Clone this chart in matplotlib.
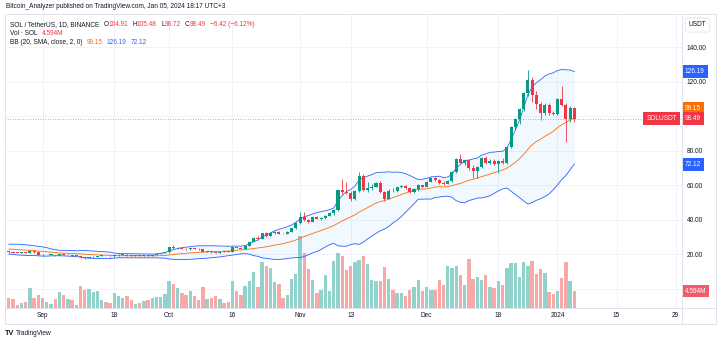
import numpy as np
import pandas as pd
import matplotlib
matplotlib.use("Agg")
import matplotlib.pyplot as plt
import matplotlib.dates as mdates
import matplotlib.transforms as mtransforms
from matplotlib.lines import Line2D

plt.rcParams['font.family'] = ['Liberation Sans', 'DejaVu Sans']

# SOL / TetherUS daily candles (Binance), 2023-08-24 .. 2024-01-05
start_date = "2023-08-24"

opens = [
    21.8, 21.2, 20.9, 20.8, 21.0, 20.8, 22.0, 21.1,
    19.9, 19.5, 19.7, 19.8, 19.4, 20.0, 19.6, 19.8, 19.3, 19.2, 18.3, 17.7, 18.2, 18.7, 19.1,
    19.2, 19.0, 18.8, 19.4, 19.8, 19.9, 19.3, 19.2, 19.4, 19.1, 19.4, 19.2, 19.6, 20.3, 20.8,
    21.1, 24.0, 23.5, 23.9, 23.2, 22.9, 23.5, 23.2, 22.9, 21.6, 21.8, 21.4, 21.0, 21.6, 21.5,
    21.4, 24.2, 23.8, 23.3, 25.0, 27.2, 29.5, 29.0, 32.1, 30.9, 32.5, 33.0, 32.0, 31.7, 33.2, 35.0,
    38.3, 41.7, 40.0, 38.8, 41.5, 40.6, 41.0, 42.5, 44.0, 45.6, 57.3, 56.2, 55.8, 52.0, 56.8,
    65.4, 57.5, 58.6, 59.2, 61.5, 56.3, 52.2, 56.9, 56.5, 58.8, 59.5, 58.4, 56.4, 57.6, 60.0,
    59.3, 62.0, 64.1, 63.2, 61.6, 61.0, 62.3, 67.9, 75.1, 73.2, 74.4, 70.3, 68.5, 70.6, 75.7,
    73.2, 74.2, 72.6, 74.3, 72.8, 82.1, 94.0, 98.4, 104.5, 113.5, 121.2, 112.6, 106.9, 101.8,
    106.7, 101.8,
    101.3, 110.0, 106.7, 98.4, 104.91,
]
highs = [
    22.0, 21.4, 21.0, 21.1, 21.2, 22.5, 22.2, 21.6,
    20.1, 19.8, 19.9, 19.9, 20.3, 20.2, 20.0, 19.9, 19.4, 19.3, 18.5, 18.6, 18.9, 19.3, 19.4,
    19.3, 19.1, 19.9, 20.0, 20.1, 20.0, 19.6, 19.5, 19.5, 19.5, 19.5, 19.9, 20.5, 21.0, 21.3,
    24.2, 25.2, 24.1, 24.0, 23.6, 23.8, 23.7, 23.4, 23.0, 22.0, 21.9, 21.6, 21.8, 21.8, 21.9,
    25.0, 24.5, 24.0, 25.3, 27.5, 29.8, 30.4, 32.5, 33.2, 32.9, 33.8, 33.4, 32.4, 33.5, 35.4, 38.6,
    44.8, 44.6, 40.6, 41.9, 42.0, 41.6, 42.9, 44.3, 46.2, 58.0, 63.5, 61.8, 57.0, 57.4, 68.0,
    66.5, 62.0, 60.5, 62.2, 62.5, 57.0, 57.6, 58.6, 59.3, 60.0, 60.0, 58.9, 58.2, 60.5, 60.4,
    62.5, 64.6, 64.6, 63.9, 62.6, 62.8, 68.5, 75.6, 78.0, 75.0, 74.9, 71.6, 71.0, 76.4, 77.2,
    75.0, 75.0, 74.9, 76.0, 82.6, 94.5, 98.9, 104.9, 114.0, 126.6, 122.5, 114.5, 108.5, 108.0,
    107.5, 103.0,
    110.8, 117.3, 108.0, 106.0, 105.48,
]
lows = [
    21.0, 20.6, 20.7, 20.7, 20.5, 20.6, 21.0, 19.7,
    19.2, 19.4, 19.5, 19.2, 19.2, 19.4, 19.4, 19.2, 19.1, 18.1, 17.3, 17.6, 18.0, 18.5, 18.9,
    18.9, 18.6, 18.7, 19.2, 19.5, 19.1, 19.1, 19.1, 19.0, 19.0, 19.1, 19.1, 19.4, 20.1, 20.6,
    21.0, 23.3, 23.2, 22.9, 22.6, 22.8, 23.0, 22.7, 21.3, 21.3, 21.0, 20.8, 20.9, 21.4, 21.3,
    21.3, 23.5, 22.9, 23.0, 24.8, 26.9, 28.6, 28.8, 30.2, 30.5, 31.8, 31.6, 31.5, 31.5, 32.8, 34.6,
    37.6, 39.5, 38.0, 38.6, 40.2, 40.0, 40.4, 42.0, 42.9, 45.2, 55.2, 55.0, 50.8, 51.5, 56.3,
    56.8, 56.0, 57.4, 58.8, 55.8, 51.0, 51.8, 56.2, 56.2, 58.3, 57.8, 55.6, 55.8, 57.0, 58.7,
    59.0, 61.7, 62.6, 60.8, 60.2, 60.6, 61.8, 67.3, 72.8, 72.0, 69.0, 64.2, 64.0, 70.1, 72.4,
    72.6, 72.0, 67.2, 72.4, 72.2, 81.5, 92.0, 95.5, 103.0, 112.0, 108.5, 104.5, 98.0, 100.5,
    100.8, 100.5,
    100.6, 105.8, 85.3, 96.5, 96.72,
]
closes = [
    21.2, 20.9, 20.8, 21.0, 20.8, 22.0, 21.1, 19.9,
    19.5, 19.7, 19.8, 19.4, 20.0, 19.6, 19.8, 19.3, 19.2, 18.3, 17.7, 18.2, 18.7, 19.1, 19.2,
    19.0, 18.8, 19.4, 19.8, 19.9, 19.3, 19.2, 19.4, 19.1, 19.4, 19.2, 19.6, 20.3, 20.8, 21.1,
    24.0, 23.5, 23.9, 23.2, 22.9, 23.5, 23.2, 22.9, 21.6, 21.8, 21.4, 21.0, 21.6, 21.5, 21.4,
    24.2, 23.8, 23.3, 25.0, 27.2, 29.5, 29.0, 32.1, 30.9, 32.5, 33.0, 32.0, 31.7, 33.2, 35.0, 38.3,
    41.7, 40.0, 38.8, 41.5, 40.6, 41.0, 42.5, 44.0, 45.6, 57.3, 56.2, 55.8, 52.0, 56.8, 65.4,
    57.5, 58.6, 59.2, 61.5, 56.3, 52.2, 56.9, 56.5, 58.8, 59.5, 58.4, 56.4, 57.6, 60.0, 59.3,
    62.0, 64.1, 63.2, 61.6, 61.0, 62.3, 67.9, 75.1, 73.2, 74.4, 70.3, 68.5, 70.6, 75.7, 73.2,
    74.2, 72.6, 74.3, 72.8, 82.1, 94.0, 98.4, 104.5, 113.5, 121.2, 112.6, 106.9, 101.8, 106.7,
    101.8, 101.3,
    110.0, 106.7, 98.4, 104.91, 98.49,
]
# volume in millions of SOL
volumes = [
    2.8, 2.4, 0.8, 1.3, 1.6, 5.5, 2.8, 3.5,
    2.8, 1.6, 1.2, 2.4, 4.4, 3.6, 2.4, 2.1, 0.8, 5.9, 4.9, 5.1, 4.4, 4.6, 2.2,
    1.5, 1.3, 4.0, 3.3, 2.8, 3.2, 2.1, 1.2, 1.3, 1.9, 2.2, 2.8, 3.1, 2.9, 3.8,
    7.2, 6.4, 5.5, 4.1, 3.5, 4.6, 3.3, 2.1, 5.7, 2.4, 2.8, 3.3, 2.4, 1.4, 1.7,
    7.3, 4.6, 3.5, 6.0, 7.3, 9.6, 5.8, 12.5, 11.4, 10.9, 6.9, 6.4, 2.8, 3.5, 7.8, 9.3,
    19.6, 14.9, 10.6, 7.7, 4.1, 5.0, 8.8, 4.6, 12.6, 14.9, 14.0, 10.4, 11.3, 12.4, 13.1,
    14.1, 12.0, 7.5, 7.2, 7.2, 11.0, 7.9, 5.0, 4.0, 4.1, 3.2, 4.8, 5.7, 7.7, 4.5,
    5.6, 5.0, 4.8, 7.7, 6.1, 11.3, 10.8, 11.4, 8.8, 6.1, 13.2, 7.9, 8.4, 7.7, 8.8,
    5.6, 5.4, 7.2, 6.1, 10.8, 12.3, 12.3, 8.4, 12.4, 11.4, 12.6, 9.2, 10.5, 9.5, 4.3, 3.9,
    4.6, 8.1, 12.4, 7.2, 4.594,
]
# closes of the 19 days before the first candle, needed for the 20-day bands
warmup_closes = [23.4, 23.3, 23.8, 24.6, 24.5, 24.6, 24.5, 24.6, 24.5, 24.7,
                 23.9, 22.9, 21.6, 21.3, 21.2, 21.7, 21.3, 21.1, 21.8]

bb_legend = ["99.15", "126.19", "72.12"]
tick_dates = ["2023-09-01", "2023-09-18", "2023-10-01", "2023-10-16", "2023-11-01", "2023-11-13",
              "2023-12-01", "2023-12-18", "2024-01-01", "2024-01-15", "2024-01-29"]
tick_labels = ["Sep", "18", "Oct", "16", "Nov", "13", "Dec", "18", "2024", "15", "29"]
price_grid = [0, 20, 40, 60, 80, 100, 120, 140]
hidden_price_labels = [0, 100]

UP, DOWN = "#089981", "#F23645"
VOL_UP, VOL_DOWN = "#92d2cc", "#f7a9a7"
BLUE, ORANGE, TXT, GRID, FRAME = "#2962FF", "#FF6D00", "#131722", "#f0f3fa", "#e0e3eb"
FS = 4.7

W, H = 720, 341
fig = plt.figure(figsize=(W / 100, H / 100), dpi=100)
fig.patch.set_facecolor("white")


def fx(px):
    return px / W


def fy(py):
    return 1 - py / H


# plot area in pixels
L, R, T, B = 5, 682, 14, 308
ax_vol = fig.add_axes([fx(L), fy(B), (R - L) / W, (B - T) / H])
ax = ax_vol.twinx()

dates = pd.date_range(start_date, periods=len(closes), freq="D")
x = mdates.date2num(dates)
o, h, l, c = map(np.array, (opens, highs, lows, closes))
up = c >= o

# Bollinger bands (20, SMA, close, 2)
s = pd.Series(warmup_closes + closes)
basis = s.rolling(20).mean().iloc[len(warmup_closes):].values
dev = s.rolling(20).std(ddof=0).iloc[len(warmup_closes):].values
upper = basis + 2 * dev
lower = basis - 2 * dev

sep1 = mdates.date2num(pd.Timestamp("2023-09-01"))
ax_vol.set_xlim(sep1 - 8.9, sep1 + 151.5)
ax.set_ylim(-11.1, 159.3)
ax_vol.set_ylim(0, 79.5)

# grid (behind the volume bars)
ax_vol.set_axisbelow(True)
ax_vol.set_xticks(mdates.date2num(pd.to_datetime(tick_dates)))
ax_vol.set_xticklabels(tick_labels)
ax_vol.grid(axis="x", color=GRID, lw=0.7)
ax_vol.tick_params(axis="x", length=0, pad=3.0, labelsize=FS, labelcolor=TXT)
ax_vol.set_yticks([])
blend = mtransforms.blended_transform_factory(ax_vol.transAxes, ax.transData)
for v in price_grid:
    ax_vol.add_line(Line2D([0, 1], [v, v], transform=blend, color=GRID, lw=0.7, zorder=0))

ax_vol.bar(x, volumes, width=0.8, color=np.where(up, VOL_UP, VOL_DOWN), linewidth=0, zorder=2)

ax.fill_between(x, lower, upper, color="#2196F3", alpha=0.06, linewidth=0, zorder=1)
ax.plot(x, upper, color=BLUE, lw=0.6, zorder=2)
ax.plot(x, lower, color=BLUE, lw=0.6, zorder=2)
ax.plot(x, basis, color=ORANGE, lw=0.6, zorder=2)

colors = np.where(up, UP, DOWN)
ax.vlines(x, l, h, color=colors, lw=0.6, zorder=4)
ax.bar(x, np.maximum(np.abs(c - o), 0.3), bottom=np.minimum(o, c), width=0.72,
       color=colors, linewidth=0, zorder=5)

ax.axhline(c[-1], color=DOWN, lw=0.6, ls=(0, (1, 2)), alpha=0.7, zorder=3)

ax.set_yticks(price_grid)
ax.set_yticklabels(["" if v in hidden_price_labels else f"{v:.2f}" for v in price_grid])
ax.tick_params(axis="y", length=0, pad=3.3, labelsize=FS, labelcolor=TXT)
for a in (ax, ax_vol):
    for sp in a.spines.values():
        sp.set_visible(False)

# price scale labels
ytr = ax.get_yaxis_transform()
box = dict(boxstyle="square,pad=0.45", ec="none")
ax.text(1.0044, float(bb_legend[1]), bb_legend[1], transform=ytr, color="white", fontsize=FS,
        va="center", ha="left", bbox=dict(box, fc=BLUE))
ax.text(1.0044, float(bb_legend[2]), bb_legend[2], transform=ytr, color="white", fontsize=FS,
        va="center", ha="left", bbox=dict(box, fc=BLUE))
ax.annotate(bb_legend[0], xy=(1.0044, float(bb_legend[0])), xycoords=ytr, xytext=(0, 6.5),
            textcoords="offset points", color="white", fontsize=FS, va="center", ha="left",
            bbox=dict(box, fc=ORANGE), annotation_clip=False)
ax.text(1.0044, c[-1], f"{c[-1]:.2f}", transform=ytr, color="white", fontsize=FS,
        va="center", ha="left", bbox=dict(box, fc=DOWN))
ax.text(0.9926, c[-1], "SOLUSDT", transform=ytr, color="white", fontsize=FS,
        va="center", ha="right", bbox=dict(box, fc=DOWN))
ax_vol.text(1.0044, volumes[-1], f"{volumes[-1]:.3f}M", transform=ax_vol.get_yaxis_transform(),
            color="white", fontsize=FS, va="center", ha="left", bbox=dict(box, fc="#f05d69"))


def text_run(x_px, y_px, parts):
    prev = fig.text(fx(x_px), fy(y_px), parts[0][0], color=parts[0][1], fontsize=FS,
                    va="center", ha="left")
    for txt, col, gap in parts[1:]:
        prev = ax.annotate(txt, xy=(1, 0.5), xycoords=prev, xytext=(gap, 0),
                           textcoords="offset points", color=col, fontsize=FS,
                           va="center", ha="left", annotation_clip=False)


fig.text(fx(6), fy(6.5), "Bitcoin_Analyzer published on TradingView.com, Jan 05, 2024 18:17 UTC+3",
         color=TXT, fontsize=FS, va="center", ha="left")
chg = c[-1] - o[-1]
text_run(10, 24.5, [
    ("SOL / TetherUS, 1D, BINANCE", TXT, 0),
    ("O", TXT, 3), (f"{o[-1]:.2f}", DOWN, 0),
    ("H", TXT, 3), (f"{h[-1]:.2f}", DOWN, 0),
    ("L", TXT, 3), (f"{l[-1]:.2f}", DOWN, 0),
    ("C", TXT, 3), (f"{c[-1]:.2f}", DOWN, 0),
    (f"\u2212{abs(chg):.2f} (\u2212{abs(chg) / o[-1] * 100:.2f}%)", DOWN, 3),
])
text_run(10, 33.5, [("Vol \u00b7 SOL", TXT, 0), (f"{volumes[-1]:.3f}M", DOWN, 3)])
text_run(10, 43, [("BB (20, SMA, close, 2, 0)", TXT, 0), (bb_legend[0], ORANGE, 3),
                  (bb_legend[1], BLUE, 3), (bb_legend[2], BLUE, 3)])

fig.text(fx(697.5), fy(25), "USDT", color=TXT, fontsize=FS, va="center", ha="center",
         bbox=dict(boxstyle="round,pad=0.55,rounding_size=0.4", fc="white", ec=FRAME, lw=0.6))

# frame and separators
for xs, ys in [((5, 716), (14, 14)), ((5, 716), (324, 324)), ((5, 5), (14, 324)),
               ((716, 716), (14, 324)), ((682, 682), (14, 324)), ((5, 716), (308, 308))]:
    fig.add_artist(Line2D([fx(xs[0]), fx(xs[1])], [fy(ys[0]), fy(ys[1])], color=FRAME, lw=0.7))

fig.text(fx(5), fy(333.5), "TV", color=TXT, fontsize=5.2, fontweight="bold", va="center", ha="left")
fig.text(fx(16), fy(333.5), "TradingView", color=TXT, fontsize=FS, va="center", ha="left")

fig.savefig("out.png", dpi=100)
